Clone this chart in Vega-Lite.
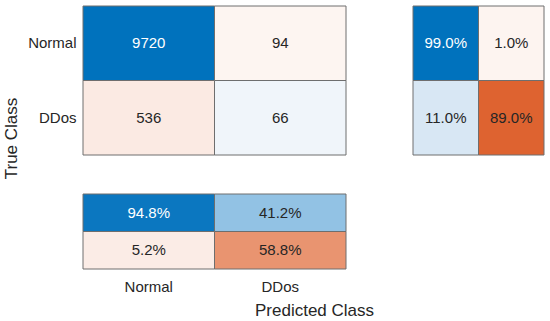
{
  "$schema": "https://vega.github.io/schema/vega-lite/v6.json",
  "autosize": {"type": "pad"},
  "padding": {"left": 2, "top": 5, "right": 5, "bottom": 5},
  "background": "white",
  "config": {
    "view": {"stroke": null},
    "font": "Liberation Sans"
  },
  "datasets": {
    "cells": [
      {"panel": "main", "row": "Normal", "col": "Normal", "value": 9720, "label": "9720"},
      {"panel": "main", "row": "Normal", "col": "DDos", "value": 94, "label": "94"},
      {"panel": "main", "row": "DDos", "col": "Normal", "value": 536, "label": "536"},
      {"panel": "main", "row": "DDos", "col": "DDos", "value": 66, "label": "66"},
      {"panel": "rowsum", "row": "Normal", "col": "TPR", "value": 99.0, "label": "99.0%"},
      {"panel": "rowsum", "row": "Normal", "col": "FNR", "value": 1.0, "label": "1.0%"},
      {"panel": "rowsum", "row": "DDos", "col": "TPR", "value": 11.0, "label": "11.0%"},
      {"panel": "rowsum", "row": "DDos", "col": "FNR", "value": 89.0, "label": "89.0%"},
      {"panel": "colsum", "row": "PPV", "col": "Normal", "value": 94.8, "label": "94.8%"},
      {"panel": "colsum", "row": "PPV", "col": "DDos", "value": 41.2, "label": "41.2%"},
      {"panel": "colsum", "row": "FDR", "col": "Normal", "value": 5.2, "label": "5.2%"},
      {"panel": "colsum", "row": "FDR", "col": "DDos", "value": 58.8, "label": "58.8%"}
    ]
  },
  "data": {"name": "cells"},
  "spacing": 38,
  "hconcat": [
    {
      "bounds": "flush",
      "spacing": 39,
      "vconcat": [
        {
          "width": 263,
          "height": 149,
          "transform": [{"filter": "datum.panel === 'main'"}],
          "encoding": {
            "x": {"field": "col", "type": "nominal", "sort": ["Normal", "DDos"], "axis": null, "scale": {"paddingInner": 0, "paddingOuter": 0}},
            "y": {
              "field": "row", "type": "nominal", "sort": ["Normal", "DDos"],
              "scale": {"paddingInner": 0, "paddingOuter": 0},
              "axis": {
                "title": "True Class",
                "labelFontSize": 15, "labelFont": "Liberation Sans", "labelColor": "#262626",
                "labelPadding": 7, "ticks": false, "tickSize": 0, "domain": false,
                "titleFontSize": 17, "titleFont": "Liberation Sans", "titleFontWeight": "normal",
                "titleColor": "#262626", "titleX": -67, "titleY": 132, "titleAngle": 270,
                "titleBaseline": "alphabetic", "titleAlign": "center"
              }
            }
          },
          "layer": [
            {
              "mark": {"type": "rect", "stroke": "#6e6e6e", "strokeWidth": 1},
              "encoding": {
                "color": {
                  "field": "label", "type": "nominal", "legend": null,
                  "scale": {
                    "domain": ["9720", "94", "536", "66", "99.0%", "1.0%", "11.0%", "89.0%", "94.8%", "41.2%", "5.2%", "58.8%"],
                    "range": ["#0072BD", "#FDF5F1", "#FBEAE3", "#F0F5FA", "#0072BD", "#FDF4F0", "#D8E7F4", "#DE6330", "#0B77C0", "#92C2E4", "#FBECE6", "#E99470"]
                  }
                }
              }
            },
            {
              "mark": {"type": "text", "fontSize": 15, "font": "Liberation Sans"},
              "encoding": {
                "text": {"field": "label", "type": "nominal"},
                "color": {"condition": {"test": "indexof(['9720','99.0%','94.8%'], datum.label) >= 0", "value": "#ffffff"}, "value": "#262626"}
              }
            }
          ]
        },
        {
          "width": 263,
          "height": 75,
          "transform": [{"filter": "datum.panel === 'colsum'"}],
          "encoding": {
            "x": {
              "field": "col", "type": "nominal", "sort": ["Normal", "DDos"],
              "scale": {"paddingInner": 0, "paddingOuter": 0},
              "axis": {
                "title": "Predicted Class", "labelAngle": 0,
                "labelFontSize": 15, "labelFont": "Liberation Sans", "labelColor": "#262626",
                "labelPadding": 22, "labelBaseline": "alphabetic", "ticks": false, "tickSize": 0, "domain": false,
                "titleFontSize": 17, "titleFont": "Liberation Sans", "titleFontWeight": "normal",
                "titleColor": "#262626", "titleX": 231, "titleY": 46,
                "titleBaseline": "alphabetic", "titleAlign": "center"
              }
            },
            "y": {"field": "row", "type": "nominal", "sort": ["PPV", "FDR"], "axis": null, "scale": {"paddingInner": 0, "paddingOuter": 0}}
          },
          "layer": [
            {
              "mark": {"type": "rect", "stroke": "#6e6e6e", "strokeWidth": 1},
              "encoding": {
                "color": {
                  "field": "label", "type": "nominal", "legend": null,
                  "scale": {
                    "domain": ["9720", "94", "536", "66", "99.0%", "1.0%", "11.0%", "89.0%", "94.8%", "41.2%", "5.2%", "58.8%"],
                    "range": ["#0072BD", "#FDF5F1", "#FBEAE3", "#F0F5FA", "#0072BD", "#FDF4F0", "#D8E7F4", "#DE6330", "#0B77C0", "#92C2E4", "#FBECE6", "#E99470"]
                  }
                }
              }
            },
            {
              "mark": {"type": "text", "fontSize": 15, "font": "Liberation Sans"},
              "encoding": {
                "text": {"field": "label", "type": "nominal"},
                "color": {"condition": {"test": "indexof(['9720','99.0%','94.8%'], datum.label) >= 0", "value": "#ffffff"}, "value": "#262626"}
              }
            }
          ]
        }
      ]
    },
    {
      "width": 131,
      "height": 149,
      "transform": [{"filter": "datum.panel === 'rowsum'"}],
      "encoding": {
        "x": {"field": "col", "type": "nominal", "sort": ["TPR", "FNR"], "axis": null, "scale": {"paddingInner": 0, "paddingOuter": 0}},
        "y": {"field": "row", "type": "nominal", "sort": ["Normal", "DDos"], "axis": null, "scale": {"paddingInner": 0, "paddingOuter": 0}}
      },
      "layer": [
        {
          "mark": {"type": "rect", "stroke": "#6e6e6e", "strokeWidth": 1},
          "encoding": {
            "color": {
              "field": "label", "type": "nominal", "legend": null,
              "scale": {
                "domain": ["9720", "94", "536", "66", "99.0%", "1.0%", "11.0%", "89.0%", "94.8%", "41.2%", "5.2%", "58.8%"],
                "range": ["#0072BD", "#FDF5F1", "#FBEAE3", "#F0F5FA", "#0072BD", "#FDF4F0", "#D8E7F4", "#DE6330", "#0B77C0", "#92C2E4", "#FBECE6", "#E99470"]
              }
            }
          }
        },
        {
          "mark": {"type": "text", "fontSize": 15, "font": "Liberation Sans"},
          "encoding": {
            "text": {"field": "label", "type": "nominal"},
            "color": {"condition": {"test": "indexof(['9720','99.0%','94.8%'], datum.label) >= 0", "value": "#ffffff"}, "value": "#262626"}
          }
        }
      ]
    }
  ]
}
